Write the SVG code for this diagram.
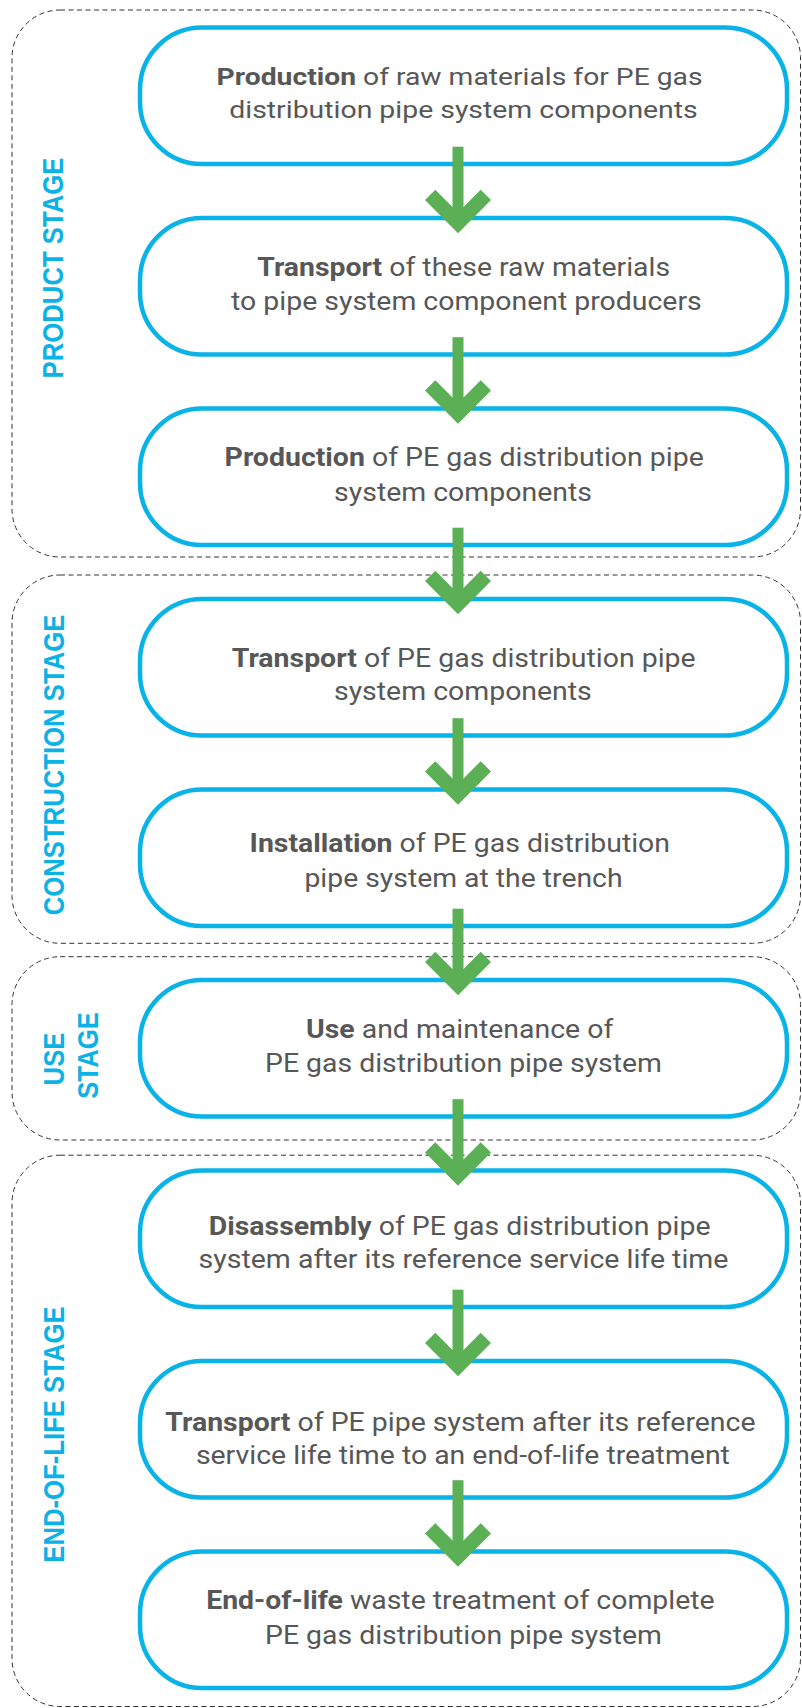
<svg xmlns="http://www.w3.org/2000/svg" xmlns:xlink="http://www.w3.org/1999/xlink" width="802" height="1708" viewBox="0 0 802 1708">
  <style>
    .stage { fill: none; stroke: #333; stroke-width: 1; stroke-dasharray: 5 3.5; }
    .stage-label { font-family: "Liberation Sans", Arial, sans-serif; font-weight: bold; font-size: 25.7px; fill: #0cb1e6; text-anchor: middle; }
    .box { fill: #fff; stroke: #09b3e8; stroke-width: 4.5; }
    .txt { font-family: Roboto, "Noto Sans", sans-serif; font-size: 26px; fill: #575757; text-anchor: middle; }
    .sm { font-size: 24.5px; }
    .md { font-size: 25.5px; }
    .txt .b { font-weight: bold; }
    .arrow { fill: #5bb056; }
  </style>
  <defs>
    <!-- down arrow, origin at the tip -->
    <g id="arw">
      <rect x="-5.5" y="-86.6" width="11" height="70"/>
      <polygon points="0,0 -33,-33.3 -22.7,-43.6 0,-20.8 22.7,-43.6 33,-33.3"/>
    </g>
  </defs>

  <!-- stage frames -->
  <g id="stages">
    <g id="stage-product">
      <rect class="stage" x="12" y="10" width="788.5" height="547" rx="48"/>
      <text class="stage-label" transform="translate(63.3,268) scale(1.15,1) rotate(-90)">PRODUCT STAGE</text>
    </g>
    <g id="stage-construction">
      <rect class="stage" x="12" y="575" width="788.5" height="368.3" rx="48"/>
      <text class="stage-label" transform="translate(63.5,765) scale(1.15,1) rotate(-90)">CONSTRUCTION STAGE</text>
    </g>
    <g id="stage-use">
      <rect class="stage" x="12" y="956.7" width="788.5" height="183.3" rx="48"/>
      <text class="stage-label" transform="translate(63.5,1059) scale(1.15,1) rotate(-90)">USE</text>
      <text class="stage-label" transform="translate(97.5,1055.5) scale(1.15,1) rotate(-90)">STAGE</text>
    </g>
    <g id="stage-eol">
      <rect class="stage" x="12" y="1155.2" width="788.5" height="551.3" rx="48"/>
      <text class="stage-label" transform="translate(63.5,1434.5) scale(1.15,1) rotate(-90)">END-OF-LIFE STAGE</text>
    </g>
  </g>

  <!-- process steps -->
  <g id="n1">
    <rect class="box" x="140" y="27.5" width="647" height="136.5" rx="62"/>
    <text class="txt sm" x="459.6" y="85" textLength="486" lengthAdjust="spacingAndGlyphs"><tspan class="b">Production</tspan> of raw materials for PE gas</text>
    <text class="txt sm" x="463.5" y="117.5" textLength="468.5" lengthAdjust="spacingAndGlyphs">distribution pipe system components</text>
  </g>
  <g id="n2">
    <rect class="box" x="140" y="218" width="647" height="136.5" rx="62"/>
    <text class="txt" x="463.7" y="275.5" textLength="412.8" lengthAdjust="spacingAndGlyphs"><tspan class="b">Transport</tspan> of these raw materials</text>
    <text class="txt" x="466.4" y="309.5" textLength="470.6" lengthAdjust="spacingAndGlyphs">to pipe system component producers</text>
  </g>
  <g id="n3">
    <rect class="box" x="140" y="408.5" width="647" height="136.5" rx="62"/>
    <text class="txt" x="464.2" y="466" textLength="479.3" lengthAdjust="spacingAndGlyphs"><tspan class="b">Production</tspan> of PE gas distribution pipe</text>
    <text class="txt" x="463" y="500.5" textLength="257.8" lengthAdjust="spacingAndGlyphs">system components</text>
  </g>
  <g id="n4">
    <rect class="box" x="140" y="599" width="647" height="136.5" rx="62"/>
    <text class="txt" x="463.7" y="666.7" textLength="463.9" lengthAdjust="spacingAndGlyphs"><tspan class="b">Transport</tspan> of PE gas distribution pipe</text>
    <text class="txt" x="462.9" y="700" textLength="257.8" lengthAdjust="spacingAndGlyphs">system components</text>
  </g>
  <g id="n5">
    <rect class="box" x="140" y="789.5" width="647" height="136.5" rx="62"/>
    <text class="txt" x="459.8" y="851.7" textLength="420.4" lengthAdjust="spacingAndGlyphs"><tspan class="b">Installation</tspan> of PE gas distribution</text>
    <text class="txt" x="463.5" y="886.7" textLength="318.1" lengthAdjust="spacingAndGlyphs">pipe system at the trench</text>
  </g>
  <g id="n6">
    <rect class="box" x="140" y="980" width="647" height="136.5" rx="62"/>
    <text class="txt" x="459.6" y="1037.7" textLength="307.4" lengthAdjust="spacingAndGlyphs"><tspan class="b">Use</tspan> and maintenance of</text>
    <text class="txt" x="463.5" y="1071.7" textLength="396.9" lengthAdjust="spacingAndGlyphs">PE gas distribution pipe system</text>
  </g>
  <g id="n7">
    <rect class="box" x="140" y="1170.5" width="647" height="136.5" rx="62"/>
    <text class="txt md" x="459.6" y="1234.9" textLength="501.8" lengthAdjust="spacingAndGlyphs"><tspan class="b">Disassembly</tspan> of PE gas distribution pipe</text>
    <text class="txt md" x="463.5" y="1267.5" textLength="529.9" lengthAdjust="spacingAndGlyphs">system after its reference service life time</text>
  </g>
  <g id="n8">
    <rect class="box" x="140" y="1361" width="647" height="136.5" rx="62"/>
    <text class="txt md" x="460.4" y="1431" textLength="590.2" lengthAdjust="spacingAndGlyphs"><tspan class="b">Transport</tspan> of PE pipe system after its reference</text>
    <text class="txt md" x="462.9" y="1464.3" textLength="534" lengthAdjust="spacingAndGlyphs">service life time to an end-of-life treatment</text>
  </g>
  <g id="n9">
    <rect class="box" x="140" y="1551.5" width="647" height="136.5" rx="62"/>
    <text class="txt" x="460.4" y="1609.2" textLength="508.4" lengthAdjust="spacingAndGlyphs"><tspan class="b">End-of-life</tspan> waste treatment of complete</text>
    <text class="txt" x="463.5" y="1643.5" textLength="396.9" lengthAdjust="spacingAndGlyphs">PE gas distribution pipe system</text>
  </g>

  <!-- flow arrows between steps -->
  <g id="connectors" class="arrow">
    <use xlink:href="#arw" transform="translate(458,233.3)"/>
    <use xlink:href="#arw" transform="translate(458,423.8)"/>
    <use xlink:href="#arw" transform="translate(458,614.3)"/>
    <use xlink:href="#arw" transform="translate(458,804.8)"/>
    <use xlink:href="#arw" transform="translate(458,995.3)"/>
    <use xlink:href="#arw" transform="translate(458,1185.8)"/>
    <use xlink:href="#arw" transform="translate(458,1376.3)"/>
    <use xlink:href="#arw" transform="translate(458,1566.8)"/>
  </g>
</svg>
